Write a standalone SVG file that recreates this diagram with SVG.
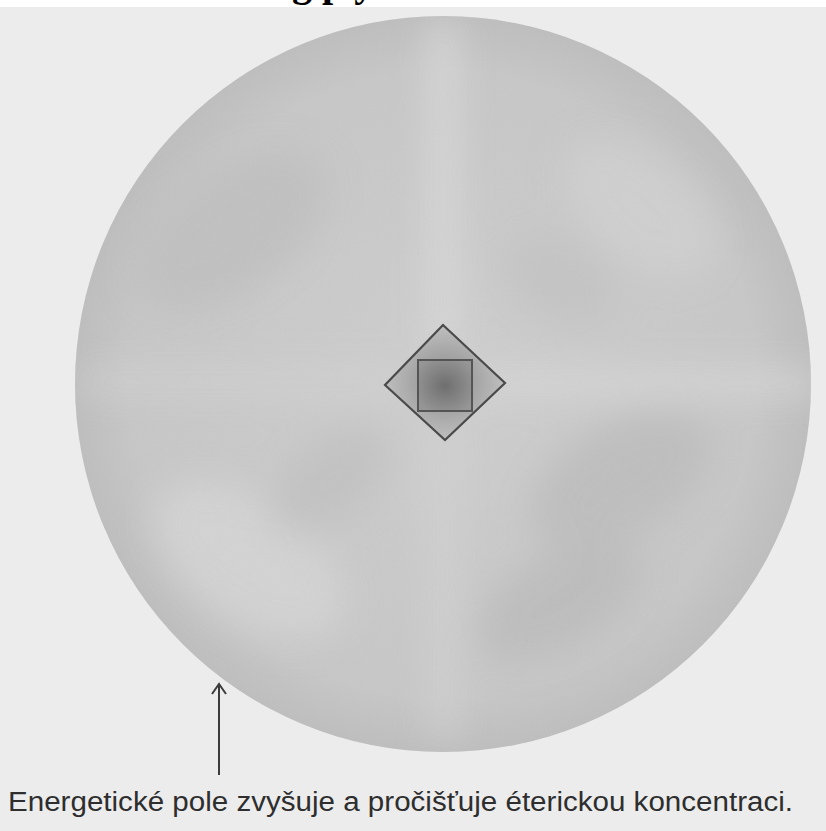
<svg xmlns="http://www.w3.org/2000/svg" width="826" height="831" viewBox="0 0 826 831">
  <style>
    .caption { font-family: "Liberation Sans", Arial, sans-serif; font-size: 27px; fill: #2e2e2e; }
    .title { font-family: "Liberation Serif", "Times New Roman", serif; font-size: 40px; font-weight: bold; fill: #000; }
    .edge { stroke: #4a4a4a; stroke-width: 2.2; stroke-linejoin: miter; }
    .conn { fill: none; stroke: #3c3c3c; stroke-width: 2; }
  </style>
  <defs>
    <radialGradient id="disc" cx="50%" cy="50%" r="50%">
      <stop offset="0" stop-color="#cfcfcf"/>
      <stop offset="0.85" stop-color="#c8c8c8"/>
      <stop offset="1" stop-color="#bebebe"/>
    </radialGradient>
    <radialGradient id="core" cx="50%" cy="50%" r="60%">
      <stop offset="0" stop-color="#6f6f6f"/>
      <stop offset="1" stop-color="#969696"/>
    </radialGradient>
    <radialGradient id="diam" cx="50%" cy="50%" r="55%">
      <stop offset="0" stop-color="#8a8a8a"/>
      <stop offset="1" stop-color="#c4c4c4"/>
    </radialGradient>
    <filter id="blur" x="-50%" y="-50%" width="200%" height="200%">
      <feGaussianBlur stdDeviation="18"/>
    </filter>
    <filter id="grain" x="0" y="0" width="100%" height="100%">
      <feTurbulence type="fractalNoise" baseFrequency="0.9" numOctaves="2" seed="3" result="n"/>
      <feColorMatrix type="matrix" values="0 0 0 0 0.5  0 0 0 0 0.5  0 0 0 0 0.5  0 0 0 0.22 0"/>
      <feComposite operator="in" in2="SourceGraphic"/>
    </filter>
    <clipPath id="discClip">
      <circle cx="443" cy="384" r="368"/>
    </clipPath>
  </defs>

  <!-- page -->
  <rect x="0" y="0" width="826" height="831" fill="#ffffff"/>
  <text class="title" x="292" y="-4">g p y</text>
  <rect x="0" y="7" width="826" height="824" fill="#ececec"/>

  <!-- energetic field disc -->
  <g id="field">
    <circle cx="443" cy="384" r="368" fill="url(#disc)"/>
    <g clip-path="url(#discClip)">
      <g filter="url(#blur)" opacity="0.9">
        <rect x="430" y="20" width="26" height="330" fill="#dedede"/>
        <rect x="460" y="372" width="360" height="22" fill="#dcdcdc"/>
        <rect x="432" y="420" width="22" height="320" fill="#d6d6d6"/>
        <rect x="80" y="372" width="320" height="20" fill="#d4d4d4"/>
        <ellipse cx="230" cy="230" rx="110" ry="60" fill="#c0c0c0" transform="rotate(-35 230 230)"/>
        <ellipse cx="640" cy="210" rx="90" ry="50" fill="#d2d2d2" transform="rotate(40 640 210)"/>
        <ellipse cx="620" cy="480" rx="100" ry="55" fill="#bdbdbd" transform="rotate(-30 620 480)"/>
        <ellipse cx="560" cy="600" rx="90" ry="45" fill="#bcbcbc" transform="rotate(-30 560 600)"/>
        <ellipse cx="250" cy="560" rx="110" ry="60" fill="#d6d6d6" transform="rotate(35 250 560)"/>
        <ellipse cx="330" cy="480" rx="70" ry="40" fill="#c2c2c2" transform="rotate(-40 330 480)"/>
        <ellipse cx="560" cy="280" rx="60" ry="40" fill="#c4c4c4" transform="rotate(30 560 280)"/>
      </g>
      <rect x="75" y="16" width="736" height="736" fill="#ffffff" filter="url(#grain)"/>
    </g>
  </g>

  <!-- central diamond with square -->
  <g id="diamond">
    <polygon points="443,325 505,383 445,440 385,385" fill="url(#diam)" class="edge"/>
  </g>
  <g id="square">
    <rect x="418" y="360" width="54" height="51" fill="url(#core)" stroke="#555555" stroke-width="2"/>
  </g>

  <!-- connector -->
  <g id="connectors">
    <line class="conn" x1="219" y1="775" x2="219" y2="685"/>
    <path class="conn" d="M212,694 L219,684 L226,694"/>
  </g>

  <g id="caption">
    <text class="caption" x="8" y="811" textLength="785" lengthAdjust="spacingAndGlyphs">Energetické pole zvyšuje a pročišťuje éterickou koncentraci.</text>
  </g>
</svg>
